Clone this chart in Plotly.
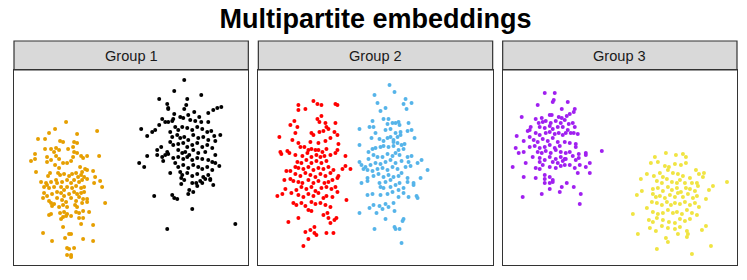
import plotly.graph_objects as go

# ---------------- data (embedding coordinates) ----------------
groups = ["Group 1", "Group 2", "Group 3"]

orange_x = [52,41,35,63,83,24,31,46,49,60,63,59,37,42,45,40,31,54,60,63,21,17,21,33,37,33,
            42,45,49,53,57,59,67,69,73,85,41,45,66,71,73,68,79,22,36,34,44,46,50,55,58,62,64,67,70,
            81,86,80,27,32,37,42,43,48,53,57,60,65,68,73,30,33,35,40,47,50,53,58,62,67,70,88,
            30,33,38,43,47,50,55,60,63,67,70,29,35,37,43,48,52,57,62,65,69,73,91,
            38,40,45,49,53,61,63,68,73,35,37,46,50,53,57,62,65,69,75,47,49,52,65,69,
            67,79,49,29,55,57,69,79,38,51,53,55,60,53,57,57]
orange_y = [51,58,62,63,60,68,68,70,71,71,72,76,78,77,79,81,78,78,81,82,83,90,88,86,89,91,
            85,88,92,92,90,86,85,87,85,85,94,97,96,98,99,101,100,101,102,105,102,104,103,105,103,102,106,104,106,
            106,110,112,111,112,111,109,112,111,109,112,109,111,109,108,116,114,117,116,116,119,116,117,115,117,116,116,
            122,125,123,121,122,125,123,121,123,122,121,127,130,132,127,129,131,127,130,126,128,128,132,
            135,133,136,134,136,134,136,132,131,144,143,142,141,143,145,141,142,140,141,148,146,145,147,147,
            153,154,156,162,163,163,168,170,170,167,177,178,177,184,186,184]

black_x = [170,160,187,145,173,153,154,154,172,170,207,203,199,194,160,166,169,180,148,151,154,158,159,
           174,176,181,185,187,194,145,141,138,127,133,156,161,164,168,173,178,183,188,193,197,200,206,
           158,163,166,170,174,179,184,189,194,201,156,159,164,169,173,178,183,188,193,147,143,153,
           164,168,171,175,179,184,191,198,201,133,143,148,151,154,159,164,169,173,178,183,188,194,198,201,205,
           125,130,149,161,164,169,174,179,184,188,193,198,156,166,168,173,178,183,189,194,
           167,170,178,182,186,191,196,167,183,188,199,196,175,179,174,140,158,160,163,178,153,221]
black_y = [9,20,24,28,28,33,37,38,34,38,36,37,39,42,43,46,47,41,48,51,51,50,48,
           44,49,50,46,51,51,54,59,61,58,65,61,56,59,56,57,59,56,58,61,60,65,64,
           66,64,67,66,69,64,67,66,69,70,71,74,73,72,76,74,72,76,74,76,79,81,
           79,82,81,84,79,82,81,77,84,85,84,86,84,83,87,86,88,86,89,87,88,89,91,92,95,
           92,96,90,92,96,94,97,94,96,98,96,99,102,101,104,102,105,103,106,104,
           107,109,112,112,110,108,108,113,115,112,114,109,119,121,123,125,124,127,128,138,158,153]

red_x = [55,59,63,40,77,79,40,47,63,59,61,36,32,39,67,77,68,70,65,61,37,53,55,76,79,21,34,40,42,
         52,60,67,72,80,22,23,29,31,46,50,53,57,60,64,68,79,37,44,49,53,58,62,66,72,77,87,
         39,43,48,53,58,63,68,87,92,28,32,37,40,45,50,55,60,65,70,75,37,42,47,52,57,62,67,72,80,84,
         26,32,35,40,44,50,55,60,66,70,74,79,27,33,38,43,48,53,57,63,68,73,77,
         19,24,40,45,50,55,60,65,68,74,79,35,38,43,47,53,57,62,67,72,88,
         40,50,53,65,69,70,72,76,78,30,56,52,47,56,58,68,75,50,45]
red_y = [30,33,34,34,33,34,39,38,45,48,51,50,54,56,52,52,56,58,60,61,62,62,64,61,64,66,69,72,76,
         71,72,70,67,73,81,83,80,82,76,79,78,79,79,81,78,79,84,85,82,86,84,86,85,84,82,85,
         91,92,89,92,90,92,90,95,98,100,100,96,97,98,96,99,97,98,96,99,103,105,102,104,106,103,105,102,105,98,
         109,108,110,111,112,109,112,110,112,111,109,107,118,122,119,116,118,116,120,117,116,118,116,
         125,123,124,126,123,125,122,127,125,126,121,132,134,132,135,131,133,132,134,136,129,
         147,139,140,144,142,147,152,149,147,151,156,159,161,162,164,162,162,168,175]

blue_x = [131,116,136,147,153,145,148,119,127,122,125,114,130,129,134,137,140,141,150,
          111,115,127,132,137,142,149,153,101,117,113,132,129,135,139,142,156,121,125,135,139,143,146,
          101,110,114,117,122,125,130,135,140,145,110,115,119,124,129,134,137,141,149,153,163,159,150,
          101,103,107,112,117,122,127,132,137,143,147,152,169,105,109,114,119,124,129,134,139,143,
          109,115,120,125,130,135,140,149,162,103,109,121,127,132,137,141,149,155,122,125,132,140,145,155,
          109,114,122,129,134,140,145,150,158,159,115,111,121,127,135,101,118,124,130,136,
          127,144,145,116,136,137,141,143]
blue_y = [14,24,21,28,32,33,38,32,37,40,48,50,48,53,52,52,51,54,52,
          56,56,59,58,62,61,60,59,58,62,67,66,67,69,66,64,67,68,70,71,72,74,73,
          74,81,78,77,76,75,76,75,79,78,88,84,86,86,83,85,82,84,86,85,89,92,91,
          91,94,96,94,92,93,91,89,92,90,96,95,99,98,99,100,98,97,99,96,98,102,
          107,105,103,106,104,106,105,107,107,112,110,112,111,109,114,112,111,114,116,117,116,119,117,112,
          124,123,124,123,121,126,122,126,125,127,134,137,135,133,132,142,142,138,136,140,
          148,150,148,158,156,158,158,172]

purple_x = [42,52,50,51,35,65,59,72,71,67,64,19,33,39,47,49,56,59,36,40,43,48,53,58,62,70,66,72,
            28,27,25,37,42,47,50,55,60,65,68,75,14,27,33,37,43,47,52,56,60,63,71,
            21,31,35,40,45,50,55,62,67,73,13,27,32,37,42,47,52,57,73,
            16,21,35,39,43,48,53,58,63,67,76,83,30,37,42,47,53,58,62,70,76,83,
            23,37,40,50,55,60,63,73,77,87,10,33,37,47,53,58,62,67,72,75,83,87,
            21,33,42,47,42,50,42,47,50,64,47,59,71,57,39,20,78,77,99]
purple_y = [22,22,31,29,34,31,38,38,41,43,45,46,48,47,44,44,46,47,52,51,50,52,50,52,49,52,53,56,
            56,59,60,56,57,55,58,56,56,59,62,63,65,66,62,64,62,61,63,62,64,62,62,
            70,69,71,68,70,67,71,71,72,73,77,76,75,77,76,74,77,75,76,
            82,81,81,82,80,82,79,81,82,81,83,82,86,87,89,86,88,86,88,85,87,84,
            92,91,94,91,92,90,88,89,94,92,96,97,98,96,97,95,94,94,97,102,96,102,
            106,107,104,106,108,109,112,112,111,112,118,116,116,121,123,126,123,133,80]

yellow_x = [163,173,180,183,152,148,155,162,166,172,178,183,144,151,157,160,165,170,175,180,187,193,196,201,
            138,154,159,164,169,174,177,182,189,194,200,224,210,206,
            139,150,155,160,165,169,174,178,183,187,192,195,
            134,150,153,157,162,167,172,175,180,185,190,194,203,
            144,149,154,159,164,168,172,177,182,187,192,196,
            130,150,155,160,165,170,174,179,184,189,194,
            146,150,154,160,166,172,177,182,187,147,153,159,165,172,177,184,185,199,203,
            135,163,175,165,184,154,189,208]
yellow_y = [82,84,83,86,86,92,91,95,96,93,94,92,103,105,102,106,99,102,103,105,107,99,103,102,
            108,110,112,108,111,112,109,112,112,112,106,111,115,119,
            120,118,117,120,116,119,117,121,117,118,120,115,
            124,123,126,125,127,124,126,122,126,123,127,125,128,
            137,131,132,134,131,134,132,133,131,134,132,136,
            143,141,143,142,139,142,141,143,139,142,144,
            149,151,147,149,151,152,148,150,148,157,160,155,157,158,156,160,163,159,155,
            163,167,163,171,166,178,183,175]

series = [
    (orange_x, orange_y, "#E69F00", 0),
    (black_x, black_y, "#000000", 0),
    (red_x, red_y, "#FF0000", 1),
    (blue_x, blue_y, "#56B4E9", 1),
    (purple_x, purple_y, "#A020F0", 2),
    (yellow_x, yellow_y, "#F0E442", 2),
]

# ---------------- figure ----------------
# the page body has an 8px margin, so the figure is drawn 8px in from the top-left corner
OFF = 8
W, H = 747 - OFF, 280 - OFF
ML, MR, MT, MB = 14 - OFF, 10, 70 - OFF, 15
plot_w = W - ML - MR
gap = 10
panel_w = (plot_w - 2 * gap) / 3
doms = [[i * (panel_w + gap) / plot_w, (i * (panel_w + gap) + panel_w) / plot_w] for i in range(3)]

fig = go.Figure()
for xs, ys, col, gi in series:
    sfx = "" if gi == 0 else str(gi + 1)
    fig.add_trace(go.Scatter(
        x=xs, y=ys, mode="markers", xaxis="x" + sfx, yaxis="y" + sfx,
        marker=dict(color=col, size=4, line=dict(width=0)),
        showlegend=False, hoverinfo="skip"))

layout = dict(
    width=W, height=H,
    margin=dict(l=ML, r=MR, t=MT, b=MB),
    paper_bgcolor="white", plot_bgcolor="white",
    title=dict(text="<b>Multipartite embeddings</b>", x=(ML + plot_w / 2) / W, xanchor="center",
               y=1 - (18.8 - OFF) / H, yanchor="middle",
               font=dict(family="Liberation Sans, Arial, sans-serif", size=27, color="#000000")),
    showlegend=False,
)
strip_h = 29 / (H - MT - MB)
shapes = []
annotations = []
for i in range(3):
    sfx = "" if i == 0 else str(i + 1)
    layout["xaxis" + sfx] = dict(domain=doms[i], range=[0, 234], showgrid=False, zeroline=False,
                                 showticklabels=False, ticks="", showline=True, mirror=True,
                                 linecolor="#333333", linewidth=1.2,
                                 anchor="y" + sfx)
    layout["yaxis" + sfx] = dict(domain=[0, 1], range=[194, -1], showgrid=False, zeroline=False,
                                 showticklabels=False, ticks="", showline=True, mirror=True,
                                 linecolor="#333333", linewidth=1.2,
                                 anchor="x" + sfx)
    shapes.append(dict(type="rect", xref="x" + sfx + " domain", yref="paper",
                       x0=0, x1=1, y0=1, y1=1 + strip_h,
                       fillcolor="#D9D9D9", line=dict(color="#333333", width=1.2), layer="below"))
    annotations.append(dict(text=groups[i], xref="x" + sfx + " domain", yref="paper",
                            x=0.5, y=1 + strip_h / 2, xanchor="center", yanchor="middle",
                            showarrow=False,
                            font=dict(family="Liberation Sans, Arial, sans-serif", size=14.6, color="#1A1A1A")))
layout["shapes"] = shapes
layout["annotations"] = annotations
fig.update_layout(**layout)
fig.write_html("out.html")
